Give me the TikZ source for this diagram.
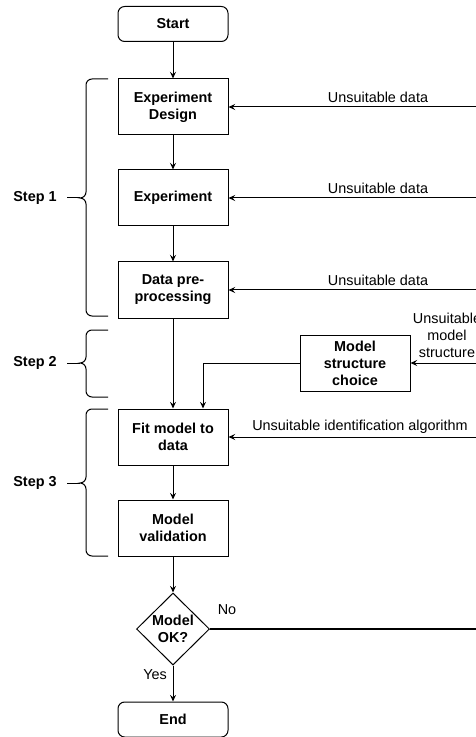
\documentclass[tikz,border=0pt]{standalone}
\usepackage{fontspec}
\setmainfont{Liberation Sans}
\usetikzlibrary{shapes.geometric,arrows.meta}

\begin{document}
\begin{tikzpicture}[x=0.75pt, y=-0.75pt, line width=0.75pt,
    font=\fontsize{10.8}{12.75}\selectfont,
    >={Stealth[length=5pt,width=4.5pt,inset=1.8pt]},
    box/.style={draw, rectangle, minimum width=82.5pt, minimum height=42pt, align=center,
      inner sep=1pt, font=\fontsize{10.8}{12.75}\selectfont\bfseries},
    term/.style={box, rounded corners=5pt, minimum height=26.25pt},
    decision/.style={draw, diamond, minimum width=54.75pt, minimum height=54pt, inner sep=0pt,
      align=center, font=\fontsize{10.8}{12.75}\selectfont\bfseries},
    lbl/.style={align=center, inner sep=0pt},
    steplbl/.style={inner xsep=7.5pt, inner ysep=0pt, font=\fontsize{10.8}{12.75}\selectfont\bfseries}]
    \useasboundingbox (0,0) rectangle (475,737);

    \node [term] (start) at (173,24) {Start};
    \node [box] (design) at (173,107) {Experiment\\Design};
    \node [box] (exper) at (173,198) {Experiment};
    \node [box] (prep) at (173,290) {Data pre-\\processing};
    \node [box] (struct) at (355,363) {Model\\structure\\choice};
    \node [box] (fit) at (173,437) {Fit model to\\data};
    \node [box] (valid) at (173,528) {Model\\validation};
    \node [decision] (ok) at (173,629) {Model\\OK?};
    \node [term] (end) at (173,719.5) {End};

    \draw [->] (start) -- (design);
    \draw [->] (design) -- (exper);
    \draw [->] (exper) -- (prep);
    \draw [->] (prep) -- (fit);
    \draw [->] (struct.west) -| ([xshift=22.5pt]fit.north);
    \draw [->] (fit) -- (valid);
    \draw [->] (valid) -- (ok);
    \draw [->] (ok) -- (end);
    \node [lbl] (yes) at (155,675) {Yes};

    % feedback from the right
    \coordinate (r1) at (476,107);
    \coordinate (r2) at (476,198);
    \coordinate (r3) at (476,290);
    \coordinate (r4) at (476,363);
    \coordinate (r5) at (476,437);
    \coordinate (r6) at (476,629);
    \draw [->] (r1) -- (design.east);
    \draw [->] (r2) -- (exper.east);
    \draw [->] (r3) -- (prep.east);
    \draw [->] (r4) -- (struct.east);
    \draw [->] (r5) -- (fit.east);
    \draw [line width=1.5pt] (ok.east) -- (r6);
    \node [lbl] (u1) at (378,97) {Unsuitable data};
    \node [lbl] (u2) at (378,188) {Unsuitable data};
    \node [lbl] (u3) at (378,280) {Unsuitable data};
    \node [lbl] (u4) at (447,335) {Unsuitable\\model\\structure};
    \node [lbl] (u5) at (360,427) {Unsuitable identification algorithm};
    \node [lbl] (no) at (227,610) {No};

    % steps
    \draw (108,79) -- (92,79) to [out=180, in=90] (86,85) -- (86,192) to [out=-90, in=0] (80,198)
      to [out=0, in=90] (86,204) -- (86,310) to [out=-90, in=180] (92,316) -- (108,316);
    \node [steplbl] (step1) at (35,198) {Step 1};
    \coordinate (b1) at (80,198);
    \draw (step1) -- (b1);

    \draw (108,330) -- (92,330) to [out=180, in=90] (86,336) -- (86,357) to [out=-90, in=0] (80,363)
      to [out=0, in=90] (86,369) -- (86,391) to [out=-90, in=180] (92,397) -- (108,397);
    \node [steplbl] (step2) at (35,363) {Step 2};
    \coordinate (b2) at (80,363);
    \draw (step2) -- (b2);

    \draw (108,409) -- (92,409) to [out=180, in=90] (86,415) -- (86,477) to [out=-90, in=0] (80,483)
      to [out=0, in=90] (86,489) -- (86,550) to [out=-90, in=180] (92,556) -- (108,556);
    \node [steplbl] (step3) at (35,483) {Step 3};
    \coordinate (b3) at (80,483);
    \draw (step3) -- (b3);
  \end{tikzpicture}
\end{document}
